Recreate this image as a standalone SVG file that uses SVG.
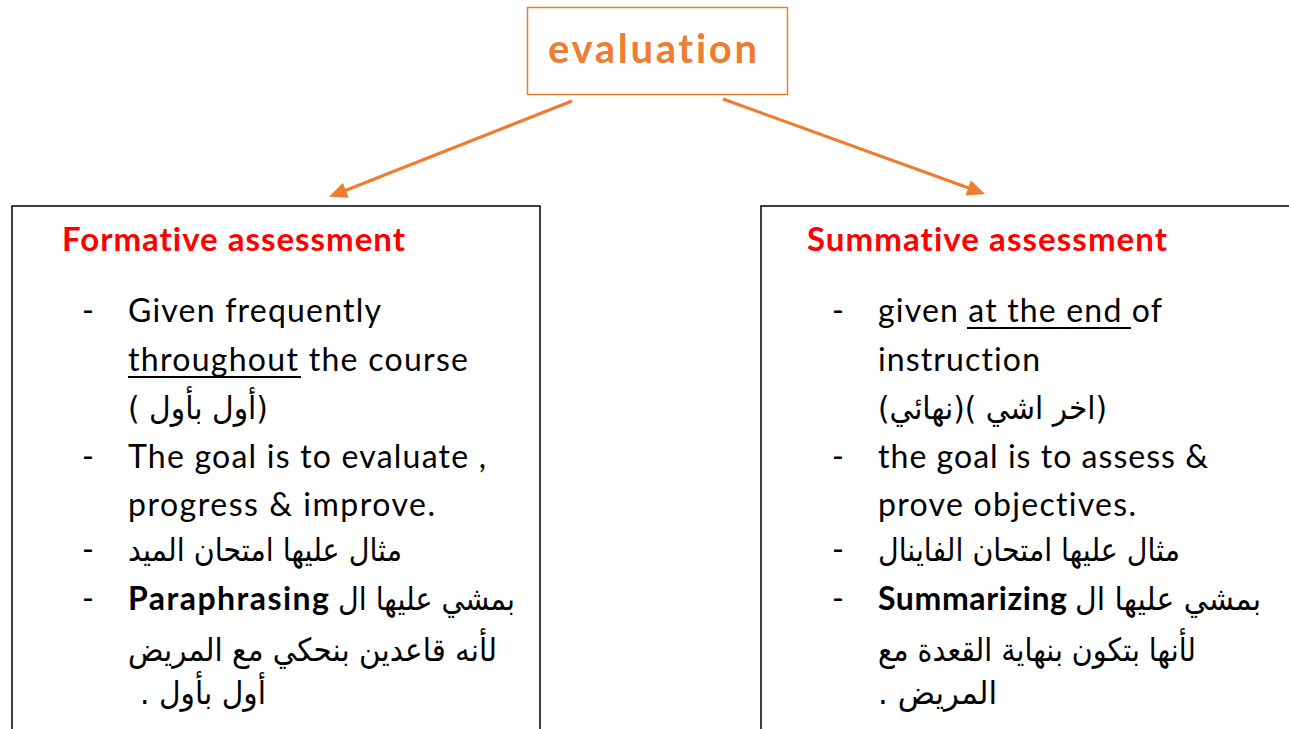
<svg xmlns="http://www.w3.org/2000/svg" width="1289" height="729" viewBox="0 0 1289 729">
<defs>
<style>
text{font-variant-ligatures:none;font-feature-settings:"liga" 0}
.en{font-family:Lato,'Liberation Sans',sans-serif;font-size:32px;fill:#000}
.b{font-weight:bold}
.hd{font-family:Lato,'Liberation Sans',sans-serif;font-weight:bold;font-size:33px;fill:#FF0000}
.ar{font-family:'DejaVu Sans',sans-serif;font-size:32px;fill:#000}
.box{fill:#fff;stroke:#000;stroke-width:1.5}
.conn{stroke:#ED7D31;stroke-width:3.2;fill:none}
.ul{stroke:#000;stroke-width:2}
</style>
<marker id="ah" markerUnits="userSpaceOnUse" markerWidth="20" markerHeight="17" refX="2" refY="8" orient="auto">
<path d="M0,0 L18,8 L0,16 z" fill="#ED7D31"/>
</marker>
</defs>
<rect width="1289" height="729" fill="#fff"/>

<g id="connectors">
<line class="conn" x1="572" y1="101" x2="344" y2="191" marker-end="url(#ah)"/>
<line class="conn" x1="723" y1="99" x2="970" y2="188.6" marker-end="url(#ah)"/>
</g>

<g id="evaluation">
<rect x="527.5" y="7.5" width="260" height="87" fill="#fff" stroke="#ED7D31" stroke-width="1.5"/>
<text x="548" y="63" font-family="Lato,'Liberation Sans',sans-serif" font-weight="bold" font-size="40" fill="#ED7D31" textLength="209">evaluation</text>
</g>

<g id="formative">
<rect class="box" x="12" y="206" width="528" height="540"/>
<text class="hd" x="62" y="251" textLength="343">Formative assessment</text>
<text class="en" x="82" y="322">-</text>
<text class="en" x="128" y="322" textLength="253">Given frequently</text>
<text class="en" x="128" y="371" textLength="340">throughout the course</text>
<line class="ul" x1="128" y1="377" x2="301" y2="377"/>
<text class="ar" x="128" y="419" textLength="140" lengthAdjust="spacingAndGlyphs">( أول بأول)</text>
<text class="en" x="82" y="468">-</text>
<text class="en" x="128" y="468" textLength="358">The goal is to evaluate ,</text>
<text class="en" x="128" y="516" textLength="307">progress &amp; improve.</text>
<text class="en" x="82" y="561">-</text>
<text class="ar" x="128" y="561" textLength="274" lengthAdjust="spacingAndGlyphs">مثال عليها امتحان الميد</text>
<text class="en" x="82" y="610">-</text>
<text class="en b" x="128" y="610" textLength="201">Paraphrasing</text>
<text class="ar" x="338" y="610" textLength="177" lengthAdjust="spacingAndGlyphs">بمشي عليها ال</text>
<text class="ar" x="128" y="661" textLength="369" lengthAdjust="spacingAndGlyphs">لأنه قاعدين بنحكي مع المريض</text>
<text class="ar" x="140" y="704" textLength="126" lengthAdjust="spacingAndGlyphs">. أول بأول</text>
</g>

<g id="summative">
<rect class="box" x="761" y="206" width="560" height="540"/>
<text class="hd" x="807" y="251" textLength="360">Summative assessment</text>
<text class="en" x="832" y="322">-</text>
<text class="en" x="878" y="322" textLength="284">given at the end of</text>
<line class="ul" x1="967" y1="328" x2="1131" y2="328"/>
<text class="en" x="878" y="371" textLength="162">instruction</text>
<text class="ar" x="878" y="419" textLength="229" lengthAdjust="spacingAndGlyphs">(نهائي)&#x200E;( اخر اشي)</text>
<text class="en" x="832" y="468">-</text>
<text class="en" x="878" y="468" textLength="330">the goal is to assess &amp;</text>
<text class="en" x="878" y="516" textLength="258">prove objectives.</text>
<text class="en" x="832" y="561">-</text>
<text class="ar" x="878" y="561" textLength="302" lengthAdjust="spacingAndGlyphs">مثال عليها امتحان الفاينال</text>
<text class="en" x="832" y="610">-</text>
<text class="en b" x="878" y="610" textLength="189">Summarizing</text>
<text class="ar" x="1075" y="610" textLength="186" lengthAdjust="spacingAndGlyphs">بمشي عليها ال</text>
<text class="ar" x="878" y="661" textLength="318" lengthAdjust="spacingAndGlyphs">لأنها بتكون بنهاية القعدة مع</text>
<text class="ar" x="878" y="704" textLength="119" lengthAdjust="spacingAndGlyphs">. المريض</text>
</g>
</svg>
